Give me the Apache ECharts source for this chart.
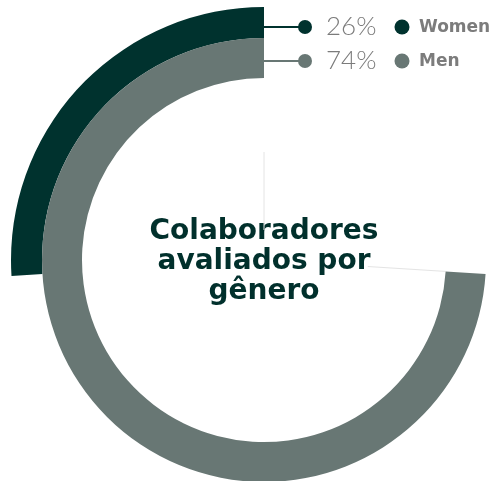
<!DOCTYPE html>
<html>
<head>
<meta charset="utf-8">
<script src="https://cdn.jsdelivr.net/npm/echarts@6/dist/echarts.min.js"></script>
<style>
  html, body { margin: 0; padding: 0; background: #ffffff; }
  #chart { width: 500px; height: 481px; }
</style>
</head>
<body>
<div id="chart"></div>
<script>
// Share of evaluated employees by gender (percent of the full circle)
const categories = ['Women', 'Men'];
const shares = [26, 74];
const colors = ['#00322e', '#687774'];
const titleLines = ['Colaboradores', 'avaliados por', 'gênero'];

const center = [264, 260];
const ringRadius = [[222, 253], [182, 222]];
const legendRows = [27, 61];

const chart = echarts.init(document.getElementById('chart'), null, { renderer: 'canvas' });

const hidden = { show: false };
const polar = [];
const angleAxis = [];
const radiusAxis = [];
const series = [];

categories.forEach((name, i) => {
  polar.push({ center: center, radius: ringRadius[i] });
  angleAxis.push({
    polarIndex: i, type: 'value', min: 0, max: 100, startAngle: 90, clockwise: false,
    axisLine: hidden, axisTick: hidden, axisLabel: hidden, splitLine: hidden
  });
  radiusAxis.push({
    polarIndex: i, type: 'category', data: [name],
    axisLine: hidden, axisTick: hidden, axisLabel: hidden, splitLine: hidden
  });
  series.push({
    type: 'bar', name: name, coordinateSystem: 'polar', polarIndex: i,
    data: [shares[i]], barWidth: '100%', silent: true,
    itemStyle: { color: colors[i] }
  });
});

// faint radial guides: one at the start of the rings, one where the "Men" ring ends
const guideAngles = [90, 90 + shares[1] / 100 * 360];
const guideRadius = [[30, 108], [104, ringRadius[1][0]]];
guideAngles.forEach((a, k) => {
  const idx = polar.length;
  polar.push({ center: center, radius: guideRadius[k] });
  angleAxis.push({
    polarIndex: idx, type: 'value', min: 0, max: 100, interval: 100,
    startAngle: a, clockwise: false,
    axisLine: hidden, axisTick: hidden, axisLabel: hidden,
    splitLine: { show: true, lineStyle: { color: '#e4e4e4', width: 1 } }
  });
  radiusAxis.push({
    polarIndex: idx, type: 'category', data: [''],
    axisLine: hidden, axisTick: hidden, axisLabel: hidden, splitLine: hidden
  });
});

// legend rows: leader line, dot, percentage, dot, name
const graphic = [];
categories.forEach((name, i) => {
  const y = legendRows[i];
  graphic.push(
    { type: 'line', shape: { x1: center[0], y1: y, x2: 300, y2: y },
      style: { stroke: colors[i], lineWidth: 2 }, silent: true },
    { type: 'circle', shape: { cx: 305, cy: y, r: 7 }, style: { fill: colors[i] }, silent: true },
    { type: 'text', x: 326, y: y,
      style: { text: shares[i] + '%', fill: '#7b7b7b', font: '300 26px Lato',
               textAlign: 'left', textVerticalAlign: 'middle' } },
    { type: 'circle', shape: { cx: 402, cy: y, r: 7.5 }, style: { fill: colors[i] }, silent: true },
    { type: 'text', x: 419, y: y + 1,
      style: { text: name, fill: '#7c7c7c', font: 'bold 17px "DejaVu Sans"',
               textAlign: 'left', textVerticalAlign: 'middle' } }
  );
});
graphic.push({
  type: 'text', x: center[0], y: 262,
  style: {
    text: titleLines.join('\n'), fill: '#01302c', font: 'bold 28px "DejaVu Sans"',
    lineHeight: 30, textAlign: 'center', textVerticalAlign: 'middle'
  }
});

chart.setOption({
  animation: false,
  backgroundColor: '#ffffff',
  polar: polar,
  angleAxis: angleAxis,
  radiusAxis: radiusAxis,
  series: series,
  graphic: graphic
});
</script>
</body>
</html>
